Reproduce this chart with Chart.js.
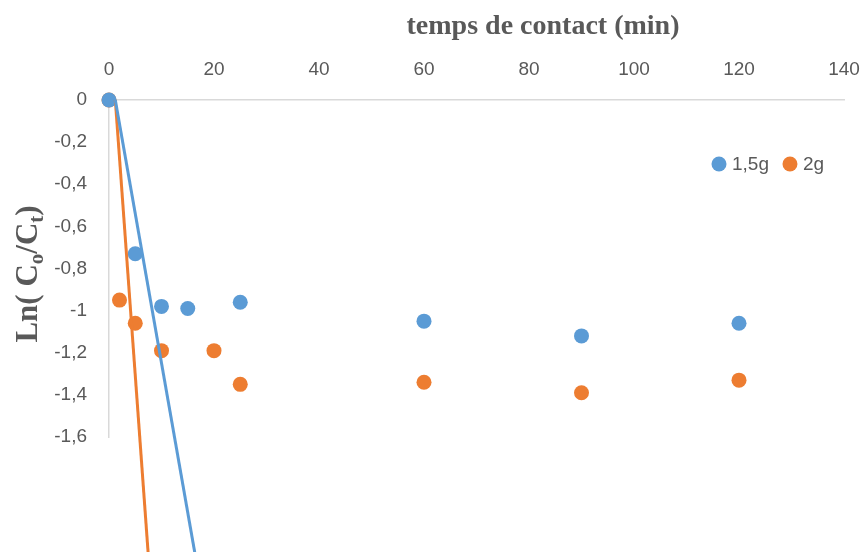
<!DOCTYPE html>
<html>
<head>
<meta charset="utf-8">
<title>Cinétique - Ln(Co/Ct)</title>
<script src="https://cdn.jsdelivr.net/npm/chart.js@4.4.1/dist/chart.umd.min.js"></script>
<style>
    html, body { margin: 0; padding: 0; background: #ffffff; }
    #wrap { width: 868px; height: 552px; }
</style>
</head>
<body>
<div id="wrap"><canvas id="kineticChart" width="868" height="552"></canvas></div>
<script>
// Mesures : temps de contact (min) et Ln(Co/Ct) pour chaque masse
const temps15 = [0, 5, 10, 15, 25, 60, 90, 120];
const ln15 = [0, -0.73, -0.98, -0.99, -0.96, -1.05, -1.12, -1.06];
const temps2 = [0, 2, 5, 10, 20, 25, 60, 90, 120];
const ln2 = [0, -0.95, -1.06, -1.19, -1.19, -1.35, -1.34, -1.39, -1.33];

// Courbes de tendance (extrémités)
const trend15X = [1.2, 16.7];
const trend15Y = [0, -2.2];
const trend2X = [1.2, 7.6];
const trend2Y = [0, -2.2];

const xTicks = [0, 20, 40, 60, 80, 100, 120, 140];
const yTicks = [0, -0.2, -0.4, -0.6, -0.8, -1, -1.2, -1.4, -1.6];

const seriesLabels = ["1,5g", "2g"];
const BLUE = "#5B9BD5";
const ORANGE = "#ED7D31";
const GREY = "#595959";
const AXIS = "#D9D9D9";
const SANS = "'Liberation Sans', Arial, sans-serif";
const SERIF = "'Liberation Serif', 'Times New Roman', serif";

const toPoints = (xs, ys) => xs.map((x, i) => ({ x: x, y: ys[i] }));
const frNum = v => (Object.is(v, -0) ? 0 : v).toString().replace(".", ",");

// Titres des axes (avec indices) et légende
const decorations = {
    id: "decorations",
    afterDraw(chart) {
        const c = chart.ctx;
        c.save();
        c.fillStyle = GREY;

        // titre de l'axe des x
        c.font = "bold 28px " + SERIF;
        c.textAlign = "center";
        c.textBaseline = "alphabetic";
        c.fillText("temps de contact (min)", 543, 34);

        // titre de l'axe des y : Ln( Co/Ct ) avec indices
        const parts = [
            { t: "Ln( C", sub: false },
            { t: "o", sub: true },
            { t: "/C", sub: false },
            { t: "t", sub: true },
            { t: ")", sub: false }
        ];
        const big = "bold 31px " + SERIF;
        const small = "bold 21px " + SERIF;
        let total = 0;
        parts.forEach(p => {
            c.font = p.sub ? small : big;
            p.w = c.measureText(p.t).width;
            total += p.w;
        });
        c.translate(37, 274);
        c.rotate(-Math.PI / 2);
        c.textAlign = "left";
        let x = -total / 2;
        parts.forEach(p => {
            c.font = p.sub ? small : big;
            c.fillText(p.t, x, p.sub ? 6 : 0);
            x += p.w;
        });
        c.setTransform(1, 0, 0, 1, 0, 0);

        // légende
        c.font = "19px " + SANS;
        c.textBaseline = "middle";
        c.textAlign = "left";
        let lx = 719;
        const ly = 164;
        [BLUE, ORANGE].forEach((col, i) => {
            c.fillStyle = col;
            c.beginPath();
            c.arc(lx, ly, 7.5, 0, Math.PI * 2);
            c.fill();
            c.fillStyle = GREY;
            c.fillText(seriesLabels[i], lx + 13, ly + 1);
            lx += 13 + c.measureText(seriesLabels[i]).width + 21;
        });
        c.restore();
    }
};

const ctx = document.getElementById("kineticChart").getContext("2d");

new Chart(ctx, {
    type: "scatter",
    data: {
        datasets: [
            {
                label: "tendance 1,5g",
                data: toPoints(trend15X, trend15Y),
                showLine: true,
                borderColor: BLUE,
                borderWidth: 3,
                pointRadius: 0,
                clip: false,
                order: 0
            },
            {
                label: "tendance 2g",
                data: toPoints(trend2X, trend2Y),
                showLine: true,
                borderColor: ORANGE,
                borderWidth: 3,
                pointRadius: 0,
                clip: false,
                order: 0
            },
            {
                label: seriesLabels[0],
                data: toPoints(temps15, ln15),
                backgroundColor: BLUE,
                borderColor: BLUE,
                borderWidth: 0,
                pointRadius: 7.5,
                clip: false,
                order: 1
            },
            {
                label: seriesLabels[1],
                data: toPoints(temps2, ln2),
                backgroundColor: ORANGE,
                borderColor: ORANGE,
                borderWidth: 0,
                pointRadius: 7.5,
                clip: false,
                order: 1
            }
        ]
    },
    options: {
        responsive: false,
        animation: false,
        layout: { padding: { top: 0, left: 0, right: 24, bottom: 115 } },
        plugins: {
            legend: { display: false },
            tooltip: { enabled: false }
        },
        scales: {
            x: {
                type: "linear",
                position: "top",
                min: 0,
                max: 140,
                afterBuildTicks: s => { s.ticks = xTicks.map(v => ({ value: v })); },
                afterFit: s => {
                    s.height = 100;
                    // l'étiquette "140" peut déborder dans la marge
                    s.paddingLeft = 0;
                    s.paddingRight = 0;
                },
                grid: { display: false, drawTicks: false },
                border: { display: true, color: AXIS, width: 1.5 },
                ticks: {
                    padding: 19,
                    color: GREY,
                    font: { family: SANS, size: 19 },
                    maxRotation: 0,
                    callback: v => frNum(v)
                }
            },
            y: {
                type: "linear",
                min: -1.6,
                max: 0,
                afterBuildTicks: s => { s.ticks = yTicks.map(v => ({ value: v })); },
                afterFit: s => { s.width = 109; },
                grid: { display: false, drawTicks: false },
                border: { display: true, color: AXIS, width: 1.5 },
                ticks: {
                    padding: 22,
                    color: GREY,
                    font: { family: SANS, size: 19 },
                    callback: v => frNum(v)
                }
            }
        }
    },
    plugins: [decorations]
});
</script>
</body>
</html>
